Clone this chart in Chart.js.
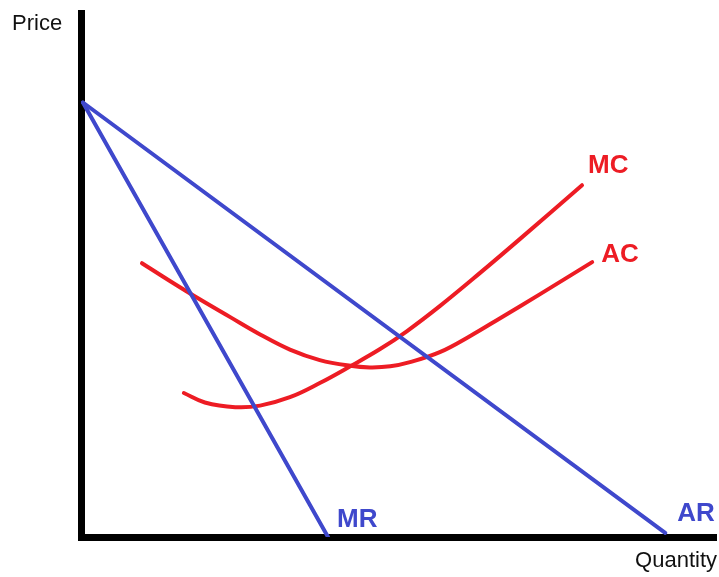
<!DOCTYPE html>
<html>
<head>
    <title>Price and Quantity</title>
    <script src="https://cdn.jsdelivr.net/npm/chart.js"></script>
    <style>
        body { margin: 0; background: #ffffff; }
        #wrap { width: 719px; height: 577px; }
    </style>
</head>
<body>
    <div id="wrap">
        <canvas id="cost-revenue-chart"></canvas>
    </div>

    <script>
        // values (quantity 0-100, price 0-100)
        const arQty = [0.3, 92];
        const arPrice = [83, 0.8];

        const mrQty = [0.3, 38.9];
        const mrPrice = [83, 0];

        const mcQty = [16.2, 19.5, 24.3, 28.2, 32.9, 37.6, 42.4, 47.1, 51.3, 56.5, 62.8, 69.1, 78.9];
        const mcPrice = [27.5, 25.7, 24.8, 25.1, 26.7, 29.4, 32.6, 35.9, 39.3, 44.1, 50.4, 56.9, 67.2];

        const acQty = [9.6, 14.0, 18.7, 23.5, 28.2, 32.9, 37.6, 42.4, 45.5, 48.7, 51.8, 56.5, 61.3, 66.0, 72.3, 80.5];
        const acPrice = [52.3, 48.9, 45.4, 42.0, 38.7, 35.8, 33.8, 32.7, 32.4, 32.6, 33.4, 35.3, 38.4, 41.8, 46.4, 52.5];

        const curveNames = ['AR', 'MR', 'MC', 'AC'];

        const blue = '#3f48cc';
        const red = '#ed1c24';

        function toPoints(xs, ys) {
            return xs.map((x, i) => ({ x: x, y: ys[i] }));
        }

        // label offsets from the end of each curve
        const labelOffsets = {
            AR: [12, -12],
            MR: [9, -10],
            MC: [6, -12],
            AC: [9, 0]
        };

        const textPlugin = {
            id: 'curveText',
            afterDatasetsDraw(chart) {
                const ctx = chart.ctx;
                const area = chart.chartArea;
                ctx.save();
                ctx.font = 'bold 26px "Liberation Sans", Arial, sans-serif';
                ctx.textAlign = 'left';
                ctx.textBaseline = 'alphabetic';
                chart.data.datasets.forEach((ds, i) => {
                    const meta = chart.getDatasetMeta(i);
                    const last = meta.data[meta.data.length - 1];
                    const off = labelOffsets[ds.label];
                    ctx.fillStyle = ds.borderColor;
                    ctx.fillText(ds.label, last.x + off[0], last.y + off[1]);
                });

                ctx.font = '22px "Liberation Sans", Arial, sans-serif';
                ctx.fillStyle = '#111111';
                ctx.textAlign = 'left';
                ctx.fillText('Price', 12, 30);
                ctx.textAlign = 'right';
                ctx.fillText('Quantity', area.right + 1, 567);
                ctx.restore();
            }
        };

        const ctx = document.getElementById('cost-revenue-chart').getContext('2d');
        new Chart(ctx, {
            type: 'line',
            data: {
                datasets: [
                    { label: curveNames[0], data: toPoints(arQty, arPrice), borderColor: blue, borderWidth: 4, tension: 0 },
                    { label: curveNames[1], data: toPoints(mrQty, mrPrice), borderColor: blue, borderWidth: 4, tension: 0 },
                    { label: curveNames[2], data: toPoints(mcQty, mcPrice), borderColor: red, borderWidth: 4, tension: 0.4 },
                    { label: curveNames[3], data: toPoints(acQty, acPrice), borderColor: red, borderWidth: 4, tension: 0.4 }
                ]
            },
            options: {
                responsive: true,
                maintainAspectRatio: false,
                animation: false,
                layout: {
                    padding: { left: 73, right: 3, top: 13.5, bottom: 32 }
                },
                elements: {
                    point: { radius: 0 },
                    line: { borderCapStyle: 'round', borderJoinStyle: 'round', fill: false }
                },
                plugins: {
                    legend: { display: false },
                    tooltip: { enabled: false }
                },
                scales: {
                    x: {
                        type: 'linear',
                        min: 0,
                        max: 100,
                        grid: { display: false },
                        ticks: { display: false },
                        border: { display: true, color: '#000000', width: 7 }
                    },
                    y: {
                        type: 'linear',
                        min: 0,
                        max: 100,
                        grid: { display: false },
                        ticks: { display: false },
                        border: { display: true, color: '#000000', width: 7 }
                    }
                }
            },
            plugins: [textPlugin]
        });
    </script>
</body>
</html>
